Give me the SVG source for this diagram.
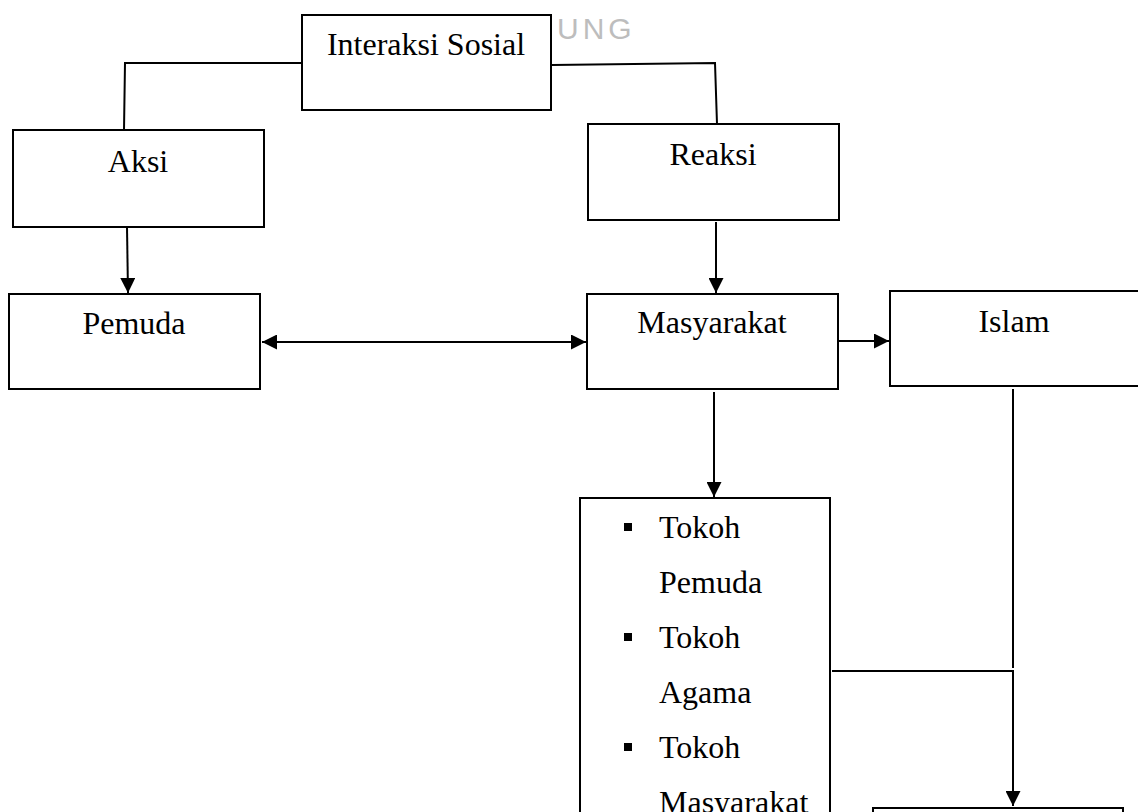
<svg xmlns="http://www.w3.org/2000/svg" width="1138" height="812" viewBox="0 0 1138 812">
<defs>
<style>
.box{fill:#fff;stroke:#000;stroke-width:2}
.t{font-family:"Liberation Serif","Times New Roman",serif;font-size:32px;fill:#000}
.c{text-anchor:middle}
.ln{fill:none;stroke:#000;stroke-width:2}
.wm{font-family:"Liberation Sans",Arial,sans-serif;font-size:30px;fill:#bdbdbd;letter-spacing:4px}
</style>
<marker id="ah" viewBox="0 0 10 10" refX="10" refY="5" markerWidth="7.5" markerHeight="7.5" markerUnits="strokeWidth" orient="auto-start-reverse">
<path d="M0,0 L10,5 L0,10 Z" fill="#000"/>
</marker>
</defs>
<rect width="1138" height="812" fill="#fff"/>
<text class="wm" x="557" y="39">UNG</text>
<g id="connectors">
<polyline class="ln" points="301,63 125,63 124,130"/>
<polyline class="ln" points="552,65 715,63 717,124"/>
<line class="ln" x1="127" y1="227" x2="128" y2="293" marker-end="url(#ah)"/>
<line class="ln" x1="716" y1="222" x2="716" y2="293" marker-end="url(#ah)"/>
<line class="ln" x1="262" y1="342" x2="586" y2="342" marker-start="url(#ah)" marker-end="url(#ah)"/>
<line class="ln" x1="838" y1="341" x2="889" y2="341" marker-end="url(#ah)"/>
<line class="ln" x1="714" y1="392" x2="714" y2="497" marker-end="url(#ah)"/>
<line class="ln" x1="1013" y1="389" x2="1013" y2="668"/>
<line class="ln" x1="832" y1="671" x2="1014" y2="671"/>
<line class="ln" x1="1013" y1="671" x2="1013" y2="806" marker-end="url(#ah)"/>
</g>
<g id="interaksi">
<rect class="box" x="302" y="15" width="249" height="95"/>
<text class="t c" x="426" y="55">Interaksi Sosial</text>
</g>
<g id="aksi">
<rect class="box" x="13" y="130" width="251" height="97"/>
<text class="t c" x="138" y="172">Aksi</text>
</g>
<g id="reaksi">
<rect class="box" x="588" y="124" width="251" height="96"/>
<text class="t c" x="713" y="165">Reaksi</text>
</g>
<g id="pemuda">
<rect class="box" x="9" y="294" width="251" height="95"/>
<text class="t c" x="134" y="334">Pemuda</text>
</g>
<g id="masyarakat">
<rect class="box" x="587" y="294" width="251" height="95"/>
<text class="t c" x="712" y="333">Masyarakat</text>
</g>
<g id="islam">
<rect class="box" x="890" y="291" width="252" height="95"/>
<text class="t c" x="1014" y="332">Islam</text>
</g>
<g id="tokoh">
<rect class="box" x="580" y="498" width="250" height="340"/>
<rect x="624" y="523" width="8" height="8" fill="#000"/>
<rect x="624" y="633" width="8" height="8" fill="#000"/>
<rect x="624" y="743" width="8" height="8" fill="#000"/>
<text class="t" x="659" y="538">Tokoh</text>
<text class="t" x="659" y="593">Pemuda</text>
<text class="t" x="659" y="648">Tokoh</text>
<text class="t" x="659" y="703">Agama</text>
<text class="t" x="659" y="758">Tokoh</text>
<text class="t" x="659" y="813">Masyarakat</text>
</g>
<g id="bottom">
<rect class="box" x="873" y="808" width="250" height="40"/>
</g>
</svg>
